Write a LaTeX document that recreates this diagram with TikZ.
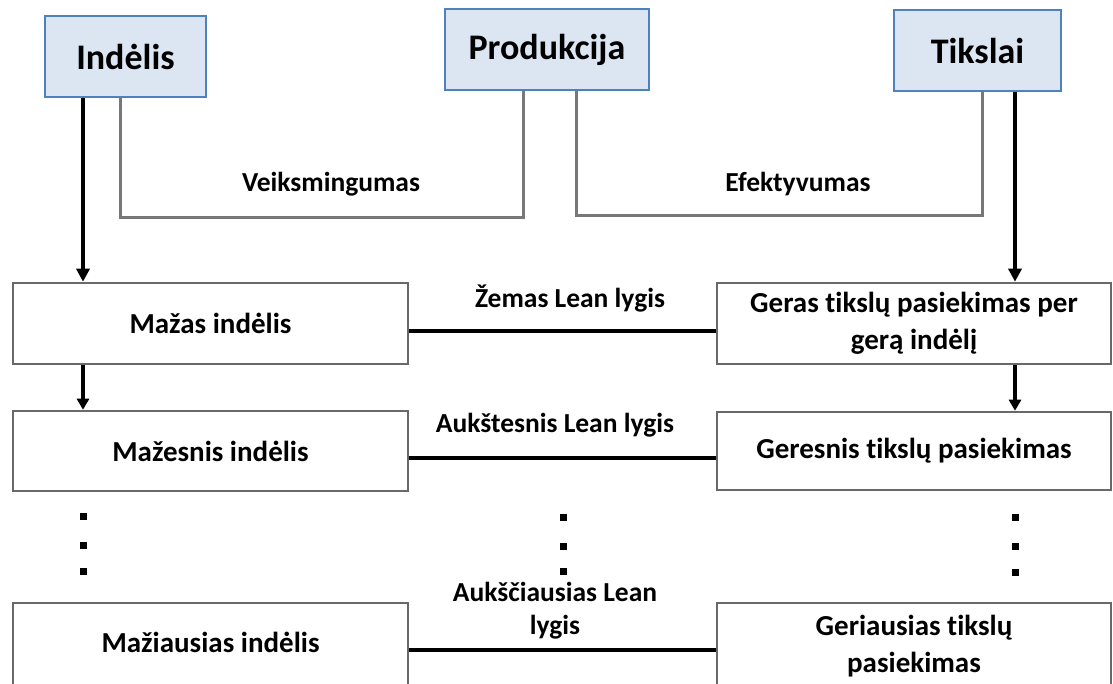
\documentclass[tikz,border=0pt]{standalone}
\usepackage{fontspec}
\setmainfont{Carlito}[Ligatures=NoCommon]
\usetikzlibrary{arrows.meta}
\definecolor{topfill}{RGB}{220,230,242}
\definecolor{topblue}{RGB}{79,129,189}
\definecolor{boxgray}{RGB}{105,105,105}
\definecolor{brgray}{RGB}{120,120,120}
\begin{document}
\begin{tikzpicture}[x=1pt,y=-1pt,
  topbox/.style={draw=topblue,line width=1.4pt,fill=topfill,minimum width=#1,minimum height=81pt,inner sep=0pt,font=\fontsize{36}{40}\selectfont\bfseries},
  rowbox/.style={draw=boxgray,line width=2.6pt,fill=white,minimum width=#1,minimum height=81pt,inner sep=0pt,align=center,font=\fontsize{29}{37}\selectfont\bfseries},
  lbl/.style={inner sep=0pt,align=center,font=\fontsize{27.5}{33}\selectfont\bfseries},
  bigarrow/.style={line width=4.2pt,-{Triangle[length=13pt,width=13pt]}},
  smallarrow/.style={line width=3.4pt,-{Triangle[length=11pt,width=12pt]}},
  bracketline/.style={draw=brgray,line width=3pt},
  hline/.style={line width=4pt},
  dotsq/.style={fill=black,rectangle,minimum size=7pt,inner sep=0pt}]
\clip (0,0) rectangle (1113,683);
\fill[white] (0,0) rectangle (1113,683);
% top boxes
\node[topbox=161pt] (ind) at (125.5,56.5) {Indėlis};
\node[topbox=204pt] (prod) at (547,49.5) {Produkcija};
\node[topbox=167pt] (tik) at (977.5,50.5) {Tikslai};
% row boxes
\node[rowbox=395pt] (maz) at (210.5,323.5) {Mažas indėlis};
\node[rowbox=395pt,minimum height=80pt] (mazesn) at (210.5,451) {Mažesnis indėlis};
\node[rowbox=395pt,minimum height=87pt] (maziaus) at (210.5,646.5) {\raisebox{7.5pt}{Mažiausias indėlis}};
\node[rowbox=394pt] (geras) at (914,323.5) {Geras tikslų pasiekimas per\\gerą indėlį};
\node[rowbox=394pt,minimum height=78pt] (geresn) at (914,451) {\raisebox{-2pt}{Geresnis tikslų pasiekimas}};
\node[rowbox=394pt,minimum height=87pt] (geriaus) at (914,646.5) {Geriausias tikslų\\pasiekimas};
% labels
\node[lbl] (veik) at (331,184) {Veiksmingumas};
\node[lbl] (efek) at (798,184) {Efektyvumas};
\node[lbl] (lab1) at (570,299) {Žemas Lean lygis};
\node[lbl] (lab2) at (555,425) {Aukštesnis Lean lygis};
\node[lbl] (lab3) at (555,611) {Aukščiausias Lean\\lygis};
% helper coordinates
\coordinate (a1) at (83,0);
\coordinate (a2) at (1015,0);
\coordinate (b1) at (120,217);
\coordinate (b2) at (523,217);
\coordinate (c1) at (576,215);
\coordinate (c2) at (982,215);
\coordinate (h1) at (0,331);
\coordinate (h2) at (0,458);
\coordinate (h3) at (0,650);
% brackets
\draw[bracketline] (ind.south -| b1) -- (b1) -- (b2) -- (prod.south -| b2);
\draw[bracketline] (prod.south -| c1) -- (c1) -- (c2) -- (tik.south -| c2);
% arrows
\draw[bigarrow] (ind.south -| a1) -- (maz.north -| a1);
\draw[bigarrow] (tik.south -| a2) -- (geras.north -| a2);
\draw[smallarrow] (maz.south -| a1) -- (mazesn.north -| a1);
\draw[smallarrow] (geras.south -| a2) -- (geresn.north -| a2);
% horizontal lines
\draw[hline] (maz.east |- h1) -- (geras.west |- h1);
\draw[hline] (mazesn.east |- h2) -- (geresn.west |- h2);
\draw[hline] (maziaus.east |- h3) -- (geriaus.west |- h3);
% dots
\node[dotsq] (dl1) at (83,516) {};
\node[dotsq] (dl2) at (83,545) {};
\node[dotsq] (dl3) at (83,571) {};
\node[dotsq] (dm1) at (563,517) {};
\node[dotsq] (dm2) at (563,546) {};
\node[dotsq] (dm3) at (563,571) {};
\node[dotsq] (dr1) at (1015,517) {};
\node[dotsq] (dr2) at (1015,546) {};
\node[dotsq] (dr3) at (1015,572) {};
\end{tikzpicture}
\end{document}
